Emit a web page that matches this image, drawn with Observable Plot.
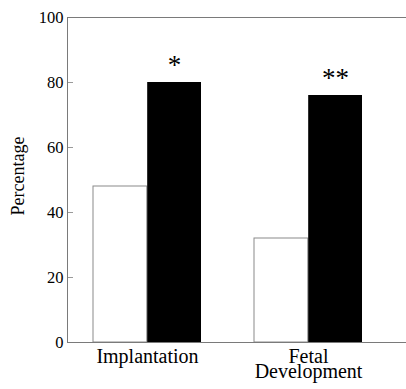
<!DOCTYPE html>
<html><head><meta charset="utf-8">
<script src="https://cdn.jsdelivr.net/npm/d3@7"></script>
<script src="https://cdn.jsdelivr.net/npm/@observablehq/plot@0.6"></script>
<style>body{margin:0;background:#fff}</style>
</head><body><div id="chart"></div>
<script>
const categories = ["Implantation", "Fetal Development"];
const controlValues = [48, 32];
const treatedValues = [80, 76];
const significance = ["*", "**"];
const yTicks = [0, 20, 40, 60, 80, 100];
const categoryLabels = ["Implantation", "Fetal\nDevelopment"];

const control = categories.map((c, i) => ({category: c, value: controlValues[i]}));
const treated = categories.map((c, i) => ({category: c, value: treatedValues[i], sig: significance[i]}));

const W = 406, H = 389, mL = 67, mR = 0, mT = 17, mB = 47;
const padIn = 0.327, padOut = 0.216, align = 0.377;
const step = (W - mL - mR) / (categories.length - padIn + 2 * padOut);
const bw = step * (1 - padIn);
const half = bw / 2;
const tickLen = 6;
const axisColor = "#7a7a7a";

const chart = Plot.plot({
  width: W, height: H,
  marginLeft: mL, marginRight: mR, marginTop: mT, marginBottom: mB,
  style: {fontFamily: "Liberation Serif", fontSize: "16px", background: "#fff", color: "#000"},
  x: {domain: categories, paddingInner: padIn, paddingOuter: padOut, align: align, label: null},
  y: {domain: [0, 100], label: null},
  marks: [
    Plot.barY(control, {x: "category", y: "value", insetRight: half, fill: "#fff", stroke: "#8a8a8a", strokeWidth: 1}),
    Plot.barY(treated, {x: "category", y: "value", insetLeft: half, fill: "#000"}),
    Plot.text(treated, {x: "category", y: "value", text: "sig", dx: half / 2, dy: -9, lineAnchor: "bottom", fontSize: 27, fill: "#000"}),
    Plot.tickY(yTicks, {y: (d) => d, insetRight: W - mL - mR - tickLen, stroke: "#9a9a9a", strokeWidth: 1}),
    Plot.frame({anchor: "left", stroke: axisColor}),
    Plot.frame({anchor: "top", stroke: axisColor}),
    Plot.frame({anchor: "bottom", stroke: axisColor}),
    Plot.axisY({ticks: yTicks, tickSize: 0, tickPadding: 4, fontSize: 16.5, label: null, color: "#000"}),
    Plot.axisX({tickSize: 0, tickPadding: 10, fontSize: 20, lineHeight: 0.76, label: null, color: "#000",
      tickFormat: (d) => categoryLabels[categories.indexOf(d)]}),
    Plot.text(["Percentage"], {frameAnchor: "left", textAnchor: "middle", lineAnchor: "middle", rotate: -90, dx: -49, dy: -4, fontSize: 18, fill: "#000"})
  ]
});
document.getElementById("chart").append(chart);
</script>
</body></html>
